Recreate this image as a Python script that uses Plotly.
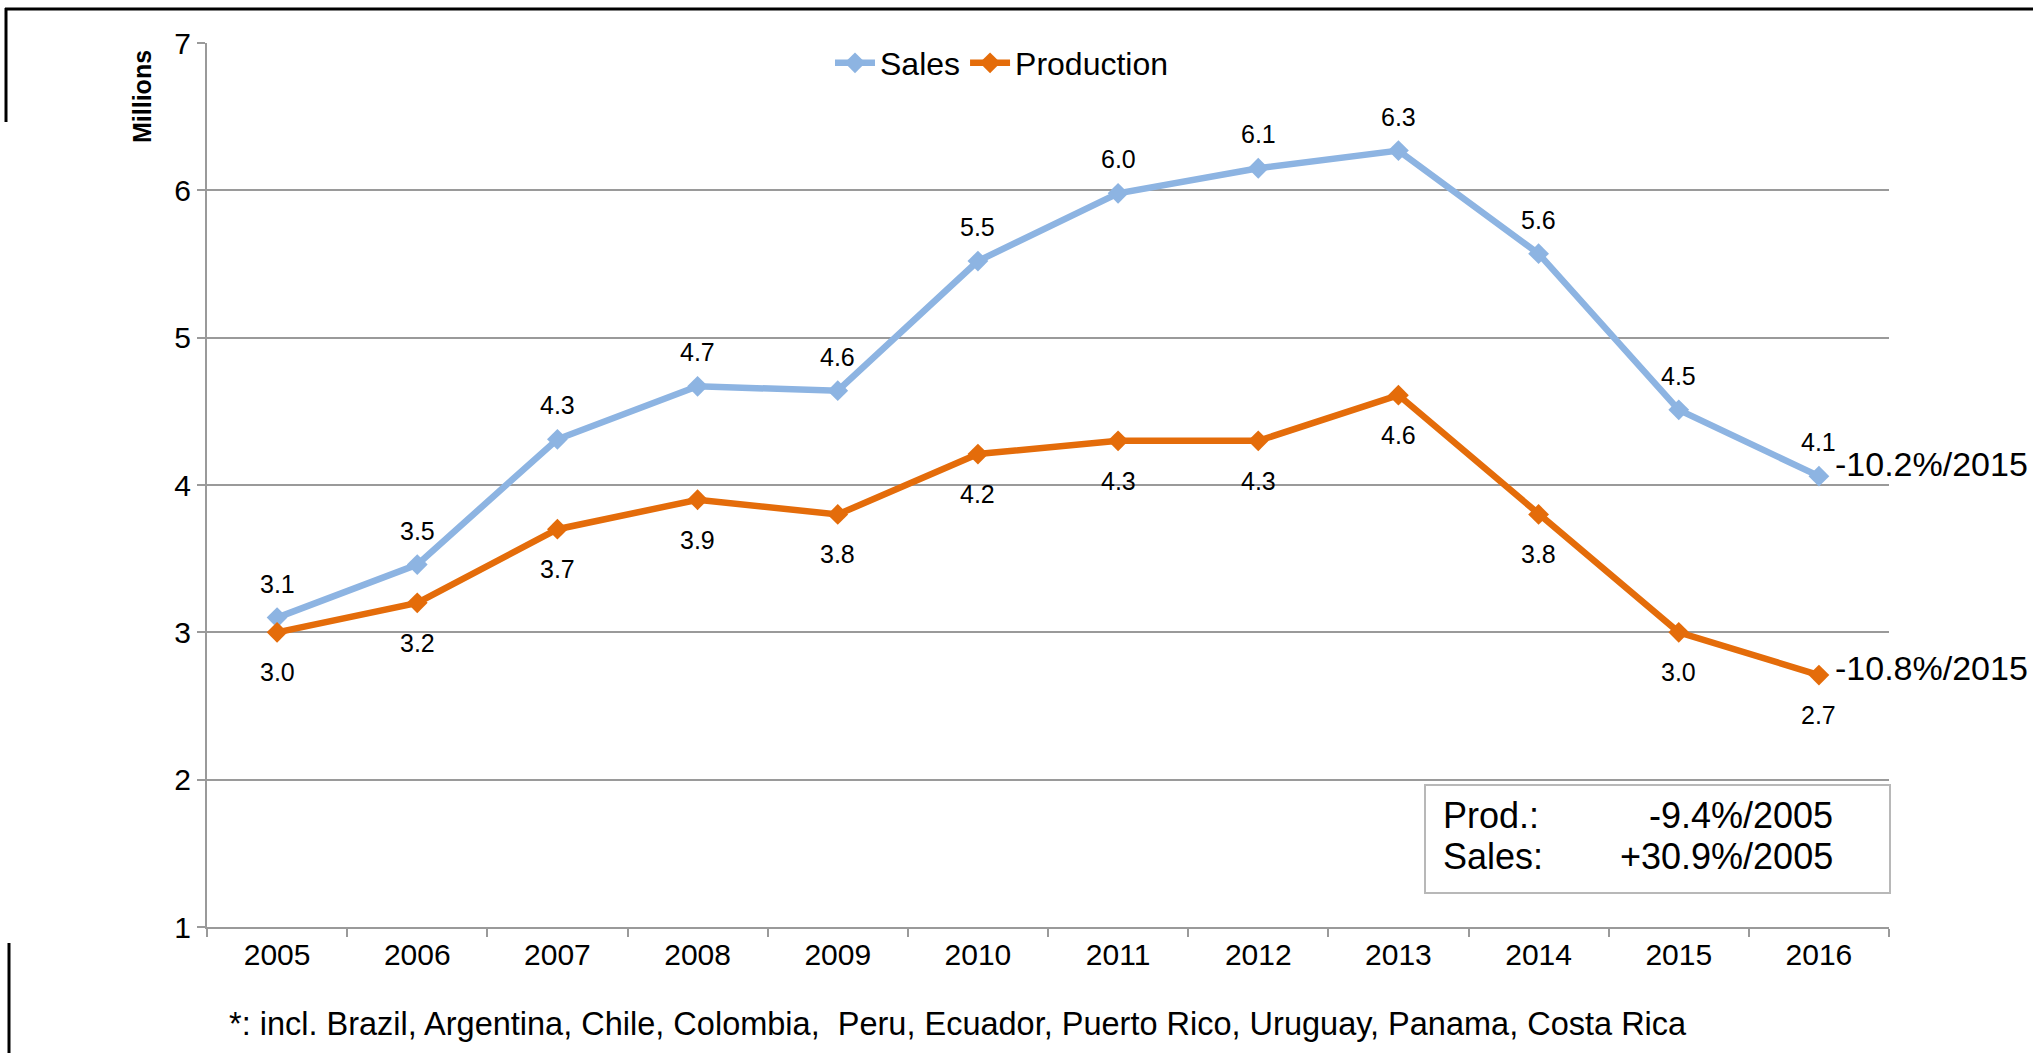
import plotly.graph_objects as go

years = ["2005", "2006", "2007", "2008", "2009", "2010", "2011", "2012", "2013", "2014", "2015", "2016"]
sales = [3.10, 3.46, 4.31, 4.67, 4.64, 5.52, 5.98, 6.15, 6.27, 5.57, 4.51, 4.06]
sales_labels = ["3.1", "3.5", "4.3", "4.7", "4.6", "5.5", "6.0", "6.1", "6.3", "5.6", "4.5", "4.1"]
production = [3.00, 3.20, 3.70, 3.90, 3.80, 4.21, 4.30, 4.30, 4.61, 3.80, 3.00, 2.71]
production_labels = ["3.0", "3.2", "3.7", "3.9", "3.8", "4.2", "4.3", "4.3", "4.6", "3.8", "3.0", "2.7"]
y_ticks = [1, 2, 3, 4, 5, 6, 7]

SALES_C = "#8DB4E2"
PROD_C = "#E46C0A"
GRID = "#9a9a9a"
FONT = "Liberation Sans, Arial, sans-serif"

W, H = 2033, 1053
L, R, T, B = 207, 144, 43, 126
PW, PH = W - L - R, H - T - B

def px(x):
    return (x - L) / PW

def py(y):
    return (H - B - y) / PH

fig = go.Figure()
fig.add_trace(go.Scatter(x=years, y=sales, name="Sales", mode="lines+markers",
                         line=dict(color=SALES_C, width=6.5),
                         marker=dict(symbol="diamond", size=16, color=SALES_C)))
fig.add_trace(go.Scatter(x=years, y=production, name="Production", mode="lines+markers",
                         line=dict(color=PROD_C, width=6.5),
                         marker=dict(symbol="diamond", size=16, color=PROD_C)))

ann = []
for i, (v, t) in enumerate(zip(sales, sales_labels)):
    ann.append(dict(x=i, y=v, text=t, showarrow=False, yshift=34,
                    font=dict(size=25, color="black", family=FONT)))
for i, (v, t) in enumerate(zip(production, production_labels)):
    ann.append(dict(x=i, y=v, text=t, showarrow=False, yshift=-40,
                    font=dict(size=25, color="black", family=FONT)))

last = len(years) - 1
ann.append(dict(x=last, y=sales[-1], text="-10.2%/2015", showarrow=False,
                xanchor="left", xshift=14, yshift=12,
                font=dict(size=34, color="black", family=FONT)))
ann.append(dict(x=last, y=production[-1], text="-10.8%/2015", showarrow=False,
                xanchor="left", xshift=14, yshift=7,
                font=dict(size=34, color="black", family=FONT)))

# summary box
BOX_FS = 36
ann.append(dict(xref="paper", yref="paper", x=px(1441), y=py(815), text="Prod.:",
                showarrow=False, xanchor="left", yanchor="middle",
                font=dict(size=BOX_FS, color="black", family=FONT)))
ann.append(dict(xref="paper", yref="paper", x=px(1441), y=py(856), text="Sales:",
                showarrow=False, xanchor="left", yanchor="middle",
                font=dict(size=BOX_FS, color="black", family=FONT)))
ann.append(dict(xref="paper", yref="paper", x=px(1835), y=py(815), text="-9.4%/2005",
                showarrow=False, xanchor="right", yanchor="middle",
                font=dict(size=BOX_FS, color="black", family=FONT)))
ann.append(dict(xref="paper", yref="paper", x=px(1835), y=py(856), text="+30.9%/2005",
                showarrow=False, xanchor="right", yanchor="middle",
                font=dict(size=BOX_FS, color="black", family=FONT)))

# y title
ann.append(dict(xref="paper", yref="paper", x=px(142), y=py(97), text="<b>Millions</b>",
                showarrow=False, textangle=-90, xanchor="center", yanchor="middle",
                font=dict(size=25, color="black", family=FONT)))

# footnote
ann.append(dict(xref="paper", yref="paper", x=px(227), y=py(1024),
                text="*: incl. Brazil, Argentina, Chile, Colombia,  Peru, Ecuador, Puerto Rico, Uruguay, Panama, Costa Rica",
                showarrow=False, xanchor="left", yanchor="middle",
                font=dict(size=32.5, color="black", family=FONT)))

shapes = [
    dict(type="rect", xref="paper", yref="paper", x0=px(1425), x1=px(1890), y0=py(893), y1=py(785),
         line=dict(color="#b8b8b8", width=2), fillcolor="white", layer="below"),
    dict(type="line", xref="paper", yref="paper", x0=px(5), x1=px(2040), y0=py(9), y1=py(9),
         line=dict(color="black", width=3)),
    dict(type="line", xref="paper", yref="paper", x0=px(6), x1=px(6), y0=py(8), y1=py(122),
         line=dict(color="black", width=3)),
    dict(type="line", xref="paper", yref="paper", x0=px(9), x1=px(9), y0=py(943), y1=py(1060),
         line=dict(color="black", width=3)),
]

fig.update_layout(
    width=W, height=H,
    margin=dict(l=L, r=R, t=T, b=B, pad=0),
    paper_bgcolor="white", plot_bgcolor="white",
    font=dict(family=FONT, color="black"),
    showlegend=True,
    legend=dict(orientation="h", x=px(1002), xanchor="center", y=py(63), yanchor="middle",
                font=dict(size=32, family=FONT, color="black"), bgcolor="rgba(0,0,0,0)",
                itemwidth=40, tracegroupgap=0),
    annotations=ann,
    shapes=shapes,
    xaxis=dict(type="category", range=[-0.5, len(years) - 0.5], autorange=False,
               showgrid=False, showline=True, linecolor=GRID, linewidth=2,
               ticks="outside", tickson="boundaries", ticklen=8, tickcolor=GRID, tickwidth=2,
               tickangle=0,
               tickfont=dict(size=30, family=FONT, color="black"), zeroline=False),
    yaxis=dict(range=[1, 7], autorange=False, tickvals=y_ticks, showgrid=True, gridcolor=GRID, gridwidth=2,
               showline=True, linecolor=GRID, linewidth=2, ticks="outside", ticklen=8,
               tickcolor=GRID, tickwidth=2, zeroline=False,
               tickfont=dict(size=30, family=FONT, color="black")),
)

fig.write_html("out.html", config={"displayModeBar": False},
               post_script="document.body.style.margin='0';document.body.style.overflow='hidden';")
